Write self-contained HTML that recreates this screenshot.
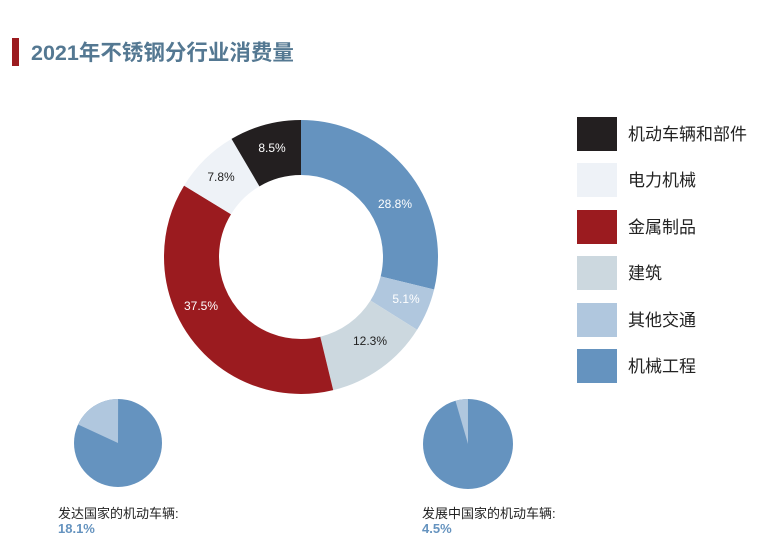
<!DOCTYPE html>
<html><head><meta charset="utf-8"><style>
body{margin:0;width:777px;height:549px;background:#fff;overflow:hidden;font-family:"Liberation Sans","Noto Sans CJK SC",sans-serif;}
</style></head><body>
<svg width="777" height="549" xmlns="http://www.w3.org/2000/svg" style="position:absolute;left:0;top:0">
<rect x="12" y="38" width="7" height="28" fill="#9b1b1f"/>
<text x="31" y="60" font-size="21.5" font-weight="bold" fill="#547892" font-family="Liberation Sans, Noto Sans CJK SC, sans-serif">2021年不锈钢分行业消费量</text>
<g transform="rotate(-90 301 257)" fill="none" stroke-width="55">
<circle cx="301" cy="257" r="109.5" stroke="#6593bf" stroke-dasharray="198.14 1000" stroke-dashoffset="0"/>
<circle cx="301" cy="257" r="109.5" stroke="#b0c7de" stroke-dasharray="35.09 1000" stroke-dashoffset="-198.14"/>
<circle cx="301" cy="257" r="109.5" stroke="#ccd8df" stroke-dasharray="84.62 1000" stroke-dashoffset="-233.23"/>
<circle cx="301" cy="257" r="109.5" stroke="#9b1b1f" stroke-dasharray="258.0 1000" stroke-dashoffset="-317.85"/>
<circle cx="301" cy="257" r="109.5" stroke="#eef2f7" stroke-dasharray="53.66 1000" stroke-dashoffset="-575.85"/>
<circle cx="301" cy="257" r="109.5" stroke="#231f20" stroke-dasharray="58.5 1000" stroke-dashoffset="-629.51"/>
</g>
<g font-size="12" text-anchor="middle" font-family="Liberation Sans, sans-serif">
<text x="395" y="208" fill="#fff">28.8%</text>
<text x="406" y="303" fill="#fff">5.1%</text>
<text x="370" y="345" fill="#222">12.3%</text>
<text x="201" y="310" fill="#fff">37.5%</text>
<text x="221" y="181" fill="#222">7.8%</text>
<text x="272" y="152" fill="#fff">8.5%</text>
</g>
<g font-size="17" fill="#222">
<rect x="577" y="117" width="40" height="34" fill="#231f20"/><text x="628" y="140">机动车辆和部件</text>
<rect x="577" y="163" width="40" height="34" fill="#eef2f7"/><text x="628" y="186">电力机械</text>
<rect x="577" y="210" width="40" height="34" fill="#9b1b1f"/><text x="628" y="233">金属制品</text>
<rect x="577" y="256" width="40" height="34" fill="#ccd8df"/><text x="628" y="279">建筑</text>
<rect x="577" y="303" width="40" height="34" fill="#b0c7de"/><text x="628" y="326">其他交通</text>
<rect x="577" y="349" width="40" height="34" fill="#6593bf"/><text x="628" y="372">机械工程</text>
</g>
<circle cx="118" cy="443" r="44" fill="#6593bf"/>
<circle cx="118" cy="443" r="22" fill="none" stroke="#b0c7de" stroke-width="44" stroke-dasharray="25.02 1000" transform="rotate(204.84 118 443)"/>
<circle cx="468" cy="444" r="45" fill="#6593bf"/>
<circle cx="468" cy="444" r="22.5" fill="none" stroke="#b0c7de" stroke-width="45" stroke-dasharray="6.36 1000" transform="rotate(253.8 468 444)"/>
<text x="58" y="518" font-size="13" fill="#222">发达国家的机动车辆:</text>
<text x="58" y="533" font-size="13" font-weight="bold" fill="#6593bf">18.1%</text>
<text x="422" y="518" font-size="13" fill="#222">发展中国家的机动车辆:</text>
<text x="422" y="533" font-size="13" font-weight="bold" fill="#6593bf">4.5%</text>
</svg>
</body></html>
